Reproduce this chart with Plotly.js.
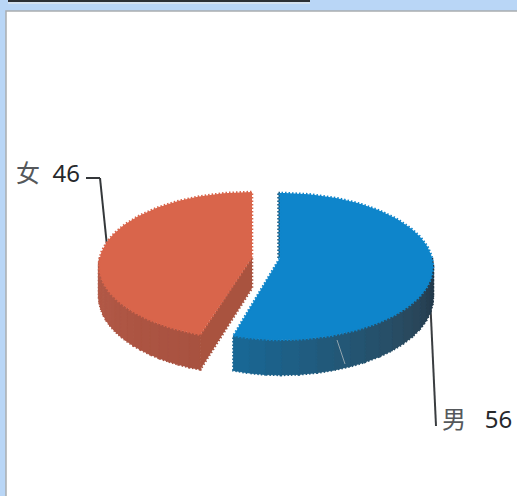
<!DOCTYPE html>
<html>
<head>
<meta charset="utf-8">
<script src="https://cdn.plot.ly/plotly-3.0.1.min.js"></script>
<style>html,body{margin:0;padding:0;background:#b9d6f6;overflow:hidden}</style>
</head>
<body>
<div id="chart" style="width:517px;height:496px"></div>
<script>
var categories = ["男", "女"];
var values = [56, 46];
var topColors = ["#0e85cb", "#d9654b"];
var cutColors = ["#1c5f86", "#a9533f"];
var wallStops = [
  [[30, 48, 62], [42, 72, 92], [34, 88, 120], [24, 104, 150]],
  [[168, 82, 64], [172, 84, 66], [176, 88, 70], [178, 90, 72]]
];
var centers = [[280, 258], [252, 257]];
var leftStretch = [0.9, 1];
var labelGaps = ["\u00a0\u00a0\u00a0", "\u00a0\u00a0"];

var A = 152, B = 72.5, K = 0.1156, D = 31;
function project(idx, deg, depth) {
  var c = centers[idx];
  var t = deg * Math.PI / 180, u = Math.sin(t), v = Math.cos(t), w = 1 + K * v;
  return [c[0] + A * u / w * (u < 0 ? leftStretch[idx] : 1), c[1] - B * v / w + depth * D / w];
}
function mix(stops, f) {
  var p = Math.min(f, 0.9999) * (stops.length - 1), i = Math.floor(p), r = p - i;
  var rgb = [0, 1, 2].map(function (j) { return Math.round(stops[i][j] + (stops[i + 1][j] - stops[i][j]) * r); });
  return "rgb(" + rgb.join(",") + ")";
}
function poly(points, fill, line) {
  return {
    type: "scatter", mode: "lines", hoverinfo: "skip", showlegend: false,
    x: points.map(function (p) { return p[0]; }),
    y: points.map(function (p) { return p[1]; }),
    fill: "toself", fillcolor: fill, line: line
  };
}
function arc(idx, a0, a1, depth) {
  var pts = [], n = Math.ceil(Math.abs(a1 - a0) / 2);
  for (var i = 0; i <= n; i++) pts.push(project(idx, a0 + (a1 - a0) * i / n, depth));
  return pts;
}

var total = values.reduce(function (a, b) { return a + b; }, 0);
var traces = [], start = 0;
var dotted = function (color) { return { color: color, width: 2.6, dash: "1.5px,2px" }; };

values.forEach(function (val, idx) {
  var end = start + 360 * val / total, c = centers[idx];
  var visFrom = Math.max(start, 90), visTo = Math.min(end, 270);

  // outer wall, shaded band by band
  var bands = 18;
  for (var b = 0; b < bands; b++) {
    var a0 = visFrom + (visTo - visFrom) * b / bands;
    var a1 = visFrom + (visTo - visFrom) * (b + 1) / bands;
    var col = mix(wallStops[idx], (b + 0.5) / bands);
    var band = arc(idx, a0, a1, 0).concat(arc(idx, a1, a0, 1));
    band.push(band[0]);
    traces.push(poly(band, col, { color: col, width: 2.4, dash: "1.5px,2px" }));
    traces.push(poly(band, col, { color: col, width: 0.6 }));
  }

  // radial cut walls
  if (idx === 1) {
    var cut = [project(idx, start, 0), c, [c[0], c[1] + D], project(idx, start, 1), project(idx, start, 0)];
    traces.push(poly(cut, cutColors[idx], dotted(cutColors[idx])));
  } else {
    var strip = [[c[0] - 1.5, c[1] - 65], [c[0] + 1, c[1] - 65], [c[0] + 1, c[1]], [c[0] - 1.5, c[1]]];
    strip.push(strip[0]);
    traces.push(poly(strip, cutColors[idx], dotted(cutColors[idx])));
  }

  // top face
  var face = [c].concat(arc(idx, start, end, 0));
  face.push(c);
  traces.push(poly(face, topColors[idx], dotted(topColors[idx])));
  start = end;
});

var seg = function (x0, y0, x1, y1, col, w) {
  return { type: "line", xref: "x", yref: "y", x0: x0, y0: y0, x1: x1, y1: y1, layer: "below",
           line: { color: col, width: w } };
};
var shapes = [
  { type: "rect", xref: "x", yref: "y", x0: 6, y0: 11, x1: 530, y1: 510, layer: "below",
    fillcolor: "#ffffff", line: { color: "#a9adb0", width: 1.5 } },
  { type: "rect", xref: "x", yref: "y", x0: 8, y0: -2, x1: 310, y1: 2, layer: "below",
    fillcolor: "#2b2f34", line: { width: 0 } },
  { type: "rect", xref: "x", yref: "y", x0: 8, y0: 2, x1: 310, y1: 4, layer: "below",
    fillcolor: "#d3e1ef", line: { width: 0 } },
  seg(86, 178, 100, 178, "#34373a", 2),
  seg(100, 178, 107, 246, "#34373a", 2),
  seg(430, 296, 436, 426, "#3a3d40", 2),
  Object.assign(seg(337, 340, 345, 364, "#8fa3ae", 1), { layer: "above" })
];

function label(i, x, y) {
  return {
    xref: "x", yref: "y", x: x, y: y, xanchor: "left", yanchor: "middle", showarrow: false,
    text: categories[i] + labelGaps[i] + '<span style="color:#26282b">' + values[i] + "</span>",
    font: { family: "'Noto Sans','Noto Sans CJK SC',sans-serif", size: 24, color: "#55585b" }
  };
}

Plotly.newPlot("chart", traces, {
  width: 517, height: 496,
  margin: { l: 0, r: 0, t: 0, b: 0, pad: 0 },
  paper_bgcolor: "#b9d6f6", plot_bgcolor: "rgba(0,0,0,0)",
  showlegend: false,
  xaxis: { range: [0, 517], visible: false, fixedrange: true },
  yaxis: { range: [496, 0], visible: false, fixedrange: true },
  shapes: shapes,
  annotations: [label(0, 440, 418), label(1, 14, 172)]
}, { displayModeBar: false, staticPlot: true });
</script>
</body>
</html>
